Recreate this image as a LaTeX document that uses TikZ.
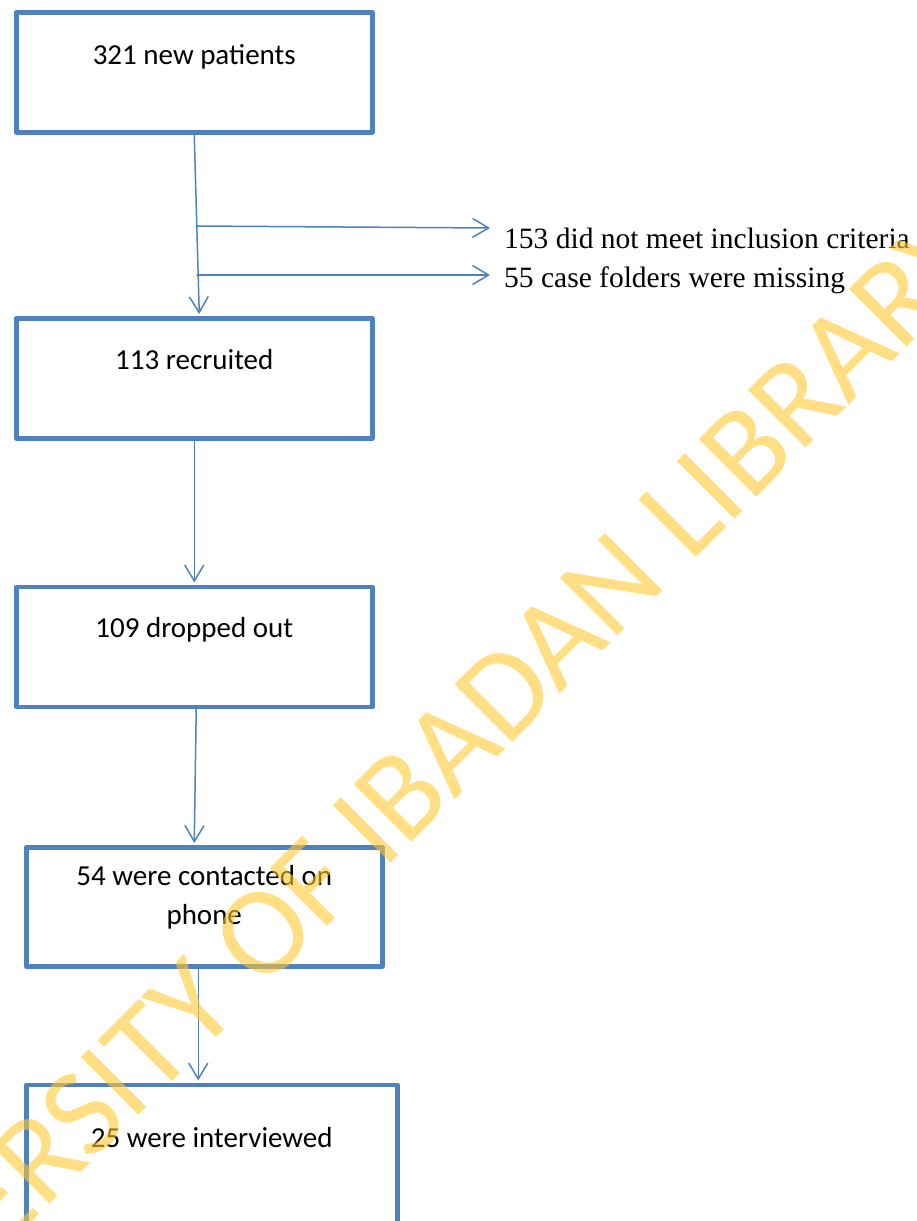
\documentclass[tikz,border=0pt]{standalone}
\usepackage{fontspec}
\setmainfont{Liberation Serif}
\newfontfamily\boxfont{Carlito}
\usetikzlibrary{arrows.meta}
\definecolor{boxblue}{RGB}{79,129,189}
\definecolor{wmgold}{RGB}{255,200,50}

\begin{document}
\begin{tikzpicture}[x=1pt,y=-1pt,line cap=round,
    box/.style={draw=boxblue,line width=4.5pt,line join=round,minimum width=356pt,minimum height=120pt,inner sep=0pt,anchor=north west},
    boxtxt/.style={font=\boxfont\fontsize{29}{39}\selectfont,inner sep=0pt,anchor=base,align=center},
    lbl/.style={font=\fontsize{29.5}{36}\selectfont,inner sep=0pt,anchor=base west},
    conn/.style={draw=boxblue,line width=1.5pt,-{Straight Barb[length=16pt,width=19pt,line width=1.5pt]}}]
        \useasboundingbox (0,0) rectangle (917,1221);
        \clip (0,0) rectangle (917,1221);
        \node[box] (b1) at (14,10) {};      % patients
        \node[box] (b2) at (14,316) {};     % recruited
        \node[box] (b3) at (14,584.5) {};   % dropped
        \node[box,minimum height=119pt] (b4) at (24,845) {};   % phone
        \node[box,minimum width=371pt,minimum height=200pt] (b5) at (24,1082.5) {};  % interviewed
        \node[boxtxt] (t1) at ([yshift=-54pt]b1.north) {321 new patients};
        \node[boxtxt] (t2) at ([yshift=-53pt]b2.north) {113 recruited};
        \node[boxtxt] (t3) at ([yshift=-52.5pt]b3.north) {109 dropped out};
        \node[boxtxt] (t4) at ([yshift=-79pt]b4.north) {54 were contacted on\\phone};
        \node[boxtxt] (t5) at ([yshift=-64.5pt]b5.north) {25 were interviewed};
        \node[lbl] (l1) at (504,248) {153 did not meet inclusion criteria};
        \node[lbl] (l2) at (504,287) {55 case folders were missing};
        \coordinate (s1) at (196,226);
        \coordinate (e1) at (490,228);
        \coordinate (s2) at (197,275);
        \coordinate (e2) at (490,275);
        \draw[conn] (b1.south) -- ([xshift=5pt,yshift=2pt]b2.north);
        \draw[conn] (s1) -- (e1);   % excluded
        \draw[conn] (s2) -- (e2);   % missing
        \draw[conn] (b2.south) -- ([yshift=2pt]b3.north);
        \draw[conn] ([xshift=2pt]b3.south) -- ([xshift=-10pt,yshift=2pt]b4.north);
        \draw[conn] ([xshift=-6pt]b4.south) -- ([xshift=-13.5pt,yshift=2pt]b5.north);
        % watermark
        \node[font=\boxfont\fontsize{127}{127}\selectfont,text=wmgold,opacity=0.6,rotate=45,anchor=base west,inner sep=0pt] (wm) at (-190,1444) {UNIVERSITY OF IBADAN LIBRARY};
\end{tikzpicture}
\end{document}
